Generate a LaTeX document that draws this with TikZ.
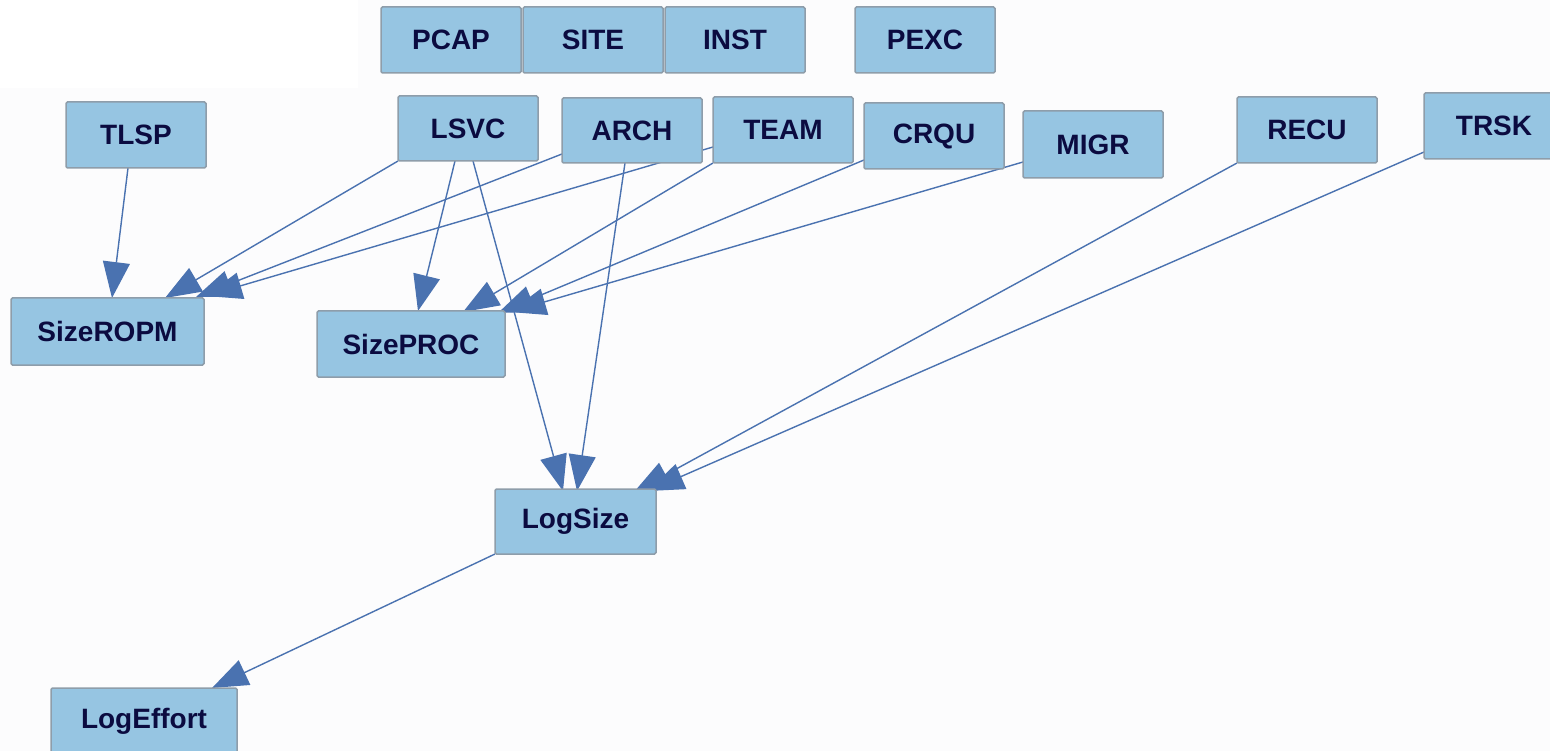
\documentclass[tikz,border=0pt]{standalone}
\usepackage{fontspec}
\setmainfont{Liberation Sans}
\usetikzlibrary{arrows.meta}
\pgfdeclarelayer{paper}
\pgfdeclarelayer{links}
\pgfsetlayers{paper,links,main}
\definecolor{boxfill}{HTML}{96C5E2}
\definecolor{boxline}{HTML}{8E9DAA}
\definecolor{labelink}{HTML}{0B0B40}
\definecolor{linkblue}{HTML}{4A72B0}
\definecolor{canvas}{HTML}{FCFCFD}
\begin{document}
\begin{tikzpicture}[x=1pt,y=-1pt,
  var/.style={draw=boxline, fill=boxfill, line width=1.5pt, rounded corners=1.5pt,
    anchor=north west, inner sep=0pt, outer sep=0pt, text=labelink,
    font=\fontsize{28}{30}\selectfont\bfseries,
    minimum width=140pt, minimum height=66pt},
  link/.style={draw=linkblue, line width=1.4pt, -{Triangle[length=36pt,width=27pt]}}
]
\useasboundingbox (0,0) rectangle (1550,751);

% drawing surface
\begin{pgfonlayer}{paper}
  \fill[canvas] (0,0) rectangle (1550,751);
  \fill[white] (0,0) rectangle (358,88);
\end{pgfonlayer}

% variables
\node[var] (pcap) at (381,7) {PCAP};
\node[var] (site) at (523,7) {SITE};
\node[var] (inst) at (665,7) {INST};
\node[var] (pexc) at (855,7) {PEXC};
\node[var] (tlsp) at (66,102) {TLSP};
\node[var, minimum height=65pt] (lsvc) at (398,96) {LSVC};
\node[var, minimum height=65pt] (arch) at (562,98) {ARCH};
\node[var] (team) at (713,97) {TEAM};
\node[var] (crqu) at (864,103) {CRQU};
\node[var, minimum height=67pt] (migr) at (1023,111) {MIGR};
\node[var] (recu) at (1237,97) {RECU};
\node[var] (trsk) at (1424,93) {TRSK};
\node[var, minimum width=193pt, minimum height=67pt] (sizeropm) at (11,298) {SizeROPM};
\node[var, minimum width=188pt] (sizeproc) at (317,311) {SizePROC};
\node[var, minimum width=161pt, minimum height=65pt] (logsize) at (495,489) {LogSize};
\node[var, minimum width=186pt] (logeffort) at (51,688) {LogEffort};

% dependencies
\begin{pgfonlayer}{links}
  \draw[link] ([xshift=62pt]tlsp.south west) -- ([xshift=101pt]sizeropm.north west);
  \draw[link] (lsvc.south west) -- ([xshift=154pt]sizeropm.north west);
  \draw[link] ([yshift=-56pt]arch.north west) -- ([xshift=185pt,yshift=1pt]sizeropm.north west);
  \draw[link] ([yshift=-50pt]team.north west) -- ([xshift=2pt,yshift=2pt]sizeropm.north east);

  \draw[link] ([xshift=57pt]lsvc.south west) -- ([xshift=101pt]sizeproc.north west);
  \draw[link] (team.south west) -- ([xshift=146pt,yshift=-1pt]sizeproc.north west);
  \draw[link] ([yshift=-57pt]crqu.north west) -- ([xshift=-7pt,yshift=-2pt]sizeproc.north east);
  \draw[link] ([yshift=-51pt]migr.north west) -- ([xshift=5pt,yshift=-1pt]sizeproc.north east);

  \draw[link] ([xshift=75pt]lsvc.south west) -- ([xshift=68pt,yshift=-2pt]logsize.north west);
  \draw[link] ([xshift=63pt]arch.south west) -- ([xshift=82pt,yshift=-2pt]logsize.north west);
  \draw[link] (recu.south west) -- ([xshift=139pt,yshift=-3pt]logsize.north west);
  \draw[link] ([yshift=-59pt]trsk.north west) -- ([xshift=153pt,yshift=-2pt]logsize.north west);

  \draw[link] (logsize.south west) -- ([xshift=161pt]logeffort.north west);
\end{pgfonlayer}
\end{tikzpicture}
\end{document}
